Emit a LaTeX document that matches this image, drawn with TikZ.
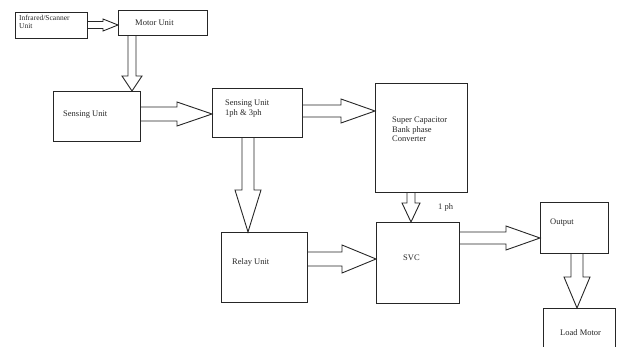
\documentclass[tikz,border=0pt]{standalone}
\usepackage{fontspec}
\setmainfont{Liberation Serif}
\usetikzlibrary{calc}
\tikzset{
  box/.style={draw=black!85, line width=1.2pt, anchor=north west, inner sep=0pt},
  lbl/.style={font=\fontsize{8.5}{9.5}\selectfont, text=black!85, inner sep=0pt, align=left},
  fat/.style={draw=black!85, line width=0.9pt, line join=miter}
}
% horizontal hollow arrow: from node #1 east to node #2 west at y=#3, shaft half #4, head half #5, head length #6
\newcommand\harr[6]{%
  \draw[fat] let \p1=(#1.east), \p2=(#2.west), \p3=(0,#3) in
    (\x1,\y3+#4pt) -- (\x2-#6pt,\y3+#4pt) -- (\x2-#6pt,\y3+#5pt) -- (\x2,\y3)
    -- (\x2-#6pt,\y3-#5pt) -- (\x2-#6pt,\y3-#4pt) -- (\x1,\y3-#4pt);}
% vertical hollow arrow: from node #1 south to node #2 north at x=#3
\newcommand\varr[6]{%
  \draw[fat] let \p1=(#1.south), \p2=(#2.north), \p3=(#3,0) in
    (\x3-#4pt,\y1) -- (\x3-#4pt,\y2+#6pt) -- (\x3-#5pt,\y2+#6pt) -- (\x3,\y2)
    -- (\x3+#5pt,\y2+#6pt) -- (\x3+#4pt,\y2+#6pt) -- (\x3+#4pt,\y1);}
\begin{document}
\begin{tikzpicture}[x=1pt,y=-1pt]
\useasboundingbox (0,0) rectangle (617,347);
\clip (0,0) rectangle (617,347);
% boxes
\node[box, minimum width=72pt, minimum height=26pt] (scan) at (15,12) {};
\node[box, minimum width=89pt, minimum height=25pt] (motor) at (118,10) {};
\node[box, minimum width=87pt, minimum height=50pt] (sense) at (53,91) {};
\node[box, minimum width=90pt, minimum height=49pt] (sense2) at (212,88) {};
\node[box, minimum width=92pt, minimum height=109pt] (cap) at (375,83) {};
\node[box, minimum width=86pt, minimum height=70pt] (relay) at (221,232) {};
\node[box, minimum width=83pt, minimum height=81pt] (svc) at (376,222) {};
\node[box, minimum width=68pt, minimum height=51pt] (out) at (540,202) {};
\node[box, minimum width=72pt, minimum height=60pt] (load) at (543,308) {};
% labels
\node[lbl, anchor=north west, font=\fontsize{7.5}{8.5}\selectfont] (tscan) at (19,15) {Infrared/Scanner\\Unit};
\node[lbl, anchor=west] (tmotor) at (135,23) {Motor Unit};
\node[lbl, anchor=west] (tsense) at (63,115) {Sensing Unit};
\node[lbl, anchor=north west] (tsense2) at (225,100) {Sensing Unit\\ 1ph \& 3ph};
\node[lbl, anchor=north west] (tcap) at (392,117) {Super Capacitor\\Bank phase\\ Converter};
\node[lbl, anchor=west] (trelay) at (232,262) {Relay Unit};
\node[lbl, anchor=west] (tsvc) at (403,258) {SVC};
\node[lbl, anchor=west] (tout) at (550,223) {Output};
\node[lbl, anchor=west] (tload) at (560,333) {Load Motor};
\node[lbl, anchor=west] (tph) at (438,207) {1 ph};
% arrows
\harr{scan}{motor}{25}{3.5}{6}{15}
\varr{motor}{sense}{132}{4}{10}{15}
\harr{sense}{sense2}{114}{7}{12}{35}
\harr{sense2}{cap}{111}{6}{12}{34}
\varr{sense2}{relay}{248}{6}{13}{42}
\varr{cap}{svc}{411}{4}{9}{19}
\harr{relay}{svc}{259}{7}{14}{34}
\harr{svc}{out}{238}{6}{12}{34}
\varr{out}{load}{577}{6}{13}{31}
\end{tikzpicture}
\end{document}
